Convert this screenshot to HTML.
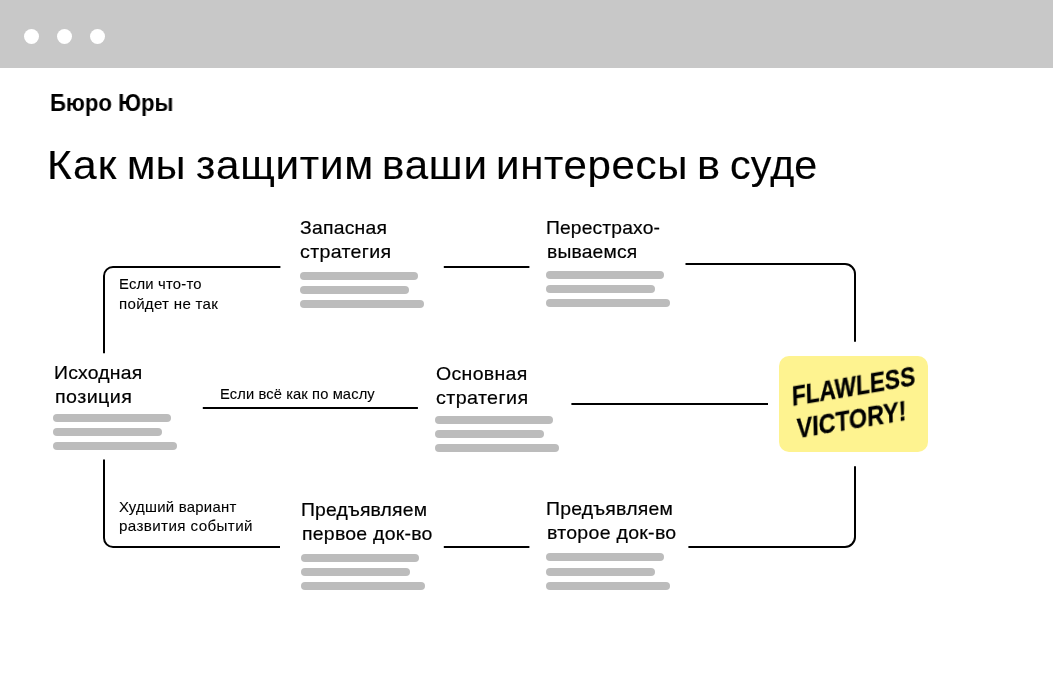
<!DOCTYPE html>
<html><head><meta charset="utf-8"><style>
html,body{margin:0;padding:0;}
body{width:1053px;height:678px;position:relative;overflow:hidden;background:#fff;font-family:"Liberation Sans",sans-serif;color:#000;}
.bar{position:absolute;height:8px;border-radius:4px;background:#bcbcbc;}
.t{position:absolute;white-space:nowrap;line-height:1;will-change:transform;}
</style></head><body>
<div style="position:absolute;left:0;top:0;width:1053px;height:68px;background:#c8c8c8"></div>
<div style="position:absolute;left:24px;top:29px;width:15px;height:15px;border-radius:50%;background:#fff"></div>
<div style="position:absolute;left:57px;top:29px;width:15px;height:15px;border-radius:50%;background:#fff"></div>
<div style="position:absolute;left:90px;top:29px;width:15px;height:15px;border-radius:50%;background:#fff"></div>

<div class="t" style="left:49.97px;top:91.53px;font-size:23px;letter-spacing:0.000px;transform-origin:0 0;transform:scaleX(0.9632);font-weight:bold;-webkit-text-stroke:0px #000">Бюро Юры</div>
<div class="t" style="left:47.19px;top:145.19px;font-size:41px;letter-spacing:1.086px;transform-origin:0 0;transform:scaleX(1.0363);-webkit-text-stroke:0.15px #000">Как</div>
<div class="t" style="left:127.08px;top:145.19px;font-size:41px;letter-spacing:0.298px;transform-origin:0 0;transform:scaleX(1.0058);-webkit-text-stroke:0.15px #000">мы</div>
<div class="t" style="left:195.57px;top:145.19px;font-size:41px;letter-spacing:0.722px;transform-origin:0 0;transform:scaleX(1.0271);-webkit-text-stroke:0.15px #000">защитим</div>
<div class="t" style="left:382.32px;top:145.19px;font-size:41px;letter-spacing:0.780px;transform-origin:0 0;transform:scaleX(1.0255);-webkit-text-stroke:0.15px #000">ваши</div>
<div class="t" style="left:496.32px;top:145.19px;font-size:41px;letter-spacing:0.627px;transform-origin:0 0;transform:scaleX(1.0256);-webkit-text-stroke:0.15px #000">интересы</div>
<div class="t" style="left:697.42px;top:145.19px;font-size:41px;letter-spacing:0.000px;transform-origin:0 0;transform:scaleX(1.0588);-webkit-text-stroke:0.15px #000">в</div>
<div class="t" style="left:729.89px;top:145.19px;font-size:41px;letter-spacing:0.149px;transform-origin:0 0;transform:scaleX(1.0054);-webkit-text-stroke:0.15px #000">суде</div>
<div class="t" style="left:300.18px;top:217.82px;font-size:19px;letter-spacing:0.224px;transform-origin:0 0;transform:scaleX(1.0195);-webkit-text-stroke:0.2px #000">Запасная</div>
<div class="t" style="left:300.17px;top:241.92px;font-size:19px;letter-spacing:0.321px;transform-origin:0 0;transform:scaleX(1.0315);-webkit-text-stroke:0.2px #000">стратегия</div>
<div class="t" style="left:545.97px;top:217.82px;font-size:19px;letter-spacing:0.148px;transform-origin:0 0;transform:scaleX(1.0139);-webkit-text-stroke:0.2px #000">Перестрахо-</div>
<div class="t" style="left:546.98px;top:242.12px;font-size:19px;letter-spacing:0.183px;transform-origin:0 0;transform:scaleX(1.0153);-webkit-text-stroke:0.2px #000">вываемся</div>
<div class="t" style="left:53.56px;top:362.92px;font-size:19px;letter-spacing:0.217px;transform-origin:0 0;transform:scaleX(1.0189);-webkit-text-stroke:0.2px #000">Исходная</div>
<div class="t" style="left:54.56px;top:386.92px;font-size:19px;letter-spacing:0.402px;transform-origin:0 0;transform:scaleX(1.0357);-webkit-text-stroke:0.2px #000">позиция</div>
<div class="t" style="left:435.97px;top:363.92px;font-size:19px;letter-spacing:0.313px;transform-origin:0 0;transform:scaleX(1.0265);-webkit-text-stroke:0.2px #000">Основная</div>
<div class="t" style="left:435.96px;top:387.92px;font-size:19px;letter-spacing:0.374px;transform-origin:0 0;transform:scaleX(1.0369);-webkit-text-stroke:0.2px #000">стратегия</div>
<div class="t" style="left:301.47px;top:499.72px;font-size:19px;letter-spacing:0.202px;transform-origin:0 0;transform:scaleX(1.0172);-webkit-text-stroke:0.2px #000">Предъявляем</div>
<div class="t" style="left:302.48px;top:523.82px;font-size:19px;letter-spacing:0.240px;transform-origin:0 0;transform:scaleX(1.0240);-webkit-text-stroke:0.2px #000">первое док-во</div>
<div class="t" style="left:545.56px;top:498.82px;font-size:19px;letter-spacing:0.245px;transform-origin:0 0;transform:scaleX(1.0210);-webkit-text-stroke:0.2px #000">Предъявляем</div>
<div class="t" style="left:546.57px;top:522.72px;font-size:19px;letter-spacing:0.272px;transform-origin:0 0;transform:scaleX(1.0277);-webkit-text-stroke:0.2px #000">второе док-во</div>
<div class="t" style="left:118.98px;top:277.33px;font-size:14.5px;letter-spacing:0.176px;transform-origin:0 0;transform:scaleX(1.0234);-webkit-text-stroke:0.1px #000">Если что-то</div>
<div class="t" style="left:118.96px;top:296.93px;font-size:14.5px;letter-spacing:0.285px;transform-origin:0 0;transform:scaleX(1.0394);-webkit-text-stroke:0.1px #000">пойдет не так</div>
<div class="t" style="left:219.79px;top:387.33px;font-size:14.5px;letter-spacing:0.108px;transform-origin:0 0;transform:scaleX(1.0148);-webkit-text-stroke:0.1px #000">Если всё как по маслу</div>
<div class="t" style="left:118.67px;top:499.83px;font-size:14.5px;letter-spacing:0.236px;transform-origin:0 0;transform:scaleX(1.0286);-webkit-text-stroke:0.1px #000">Худший вариант</div>
<div class="t" style="left:118.65px;top:518.63px;font-size:14.5px;letter-spacing:0.360px;transform-origin:0 0;transform:scaleX(1.0471);-webkit-text-stroke:0.1px #000">развития событий</div>
<div class="bar" style="left:300.3px;top:271.6px;width:118px"></div>
<div class="bar" style="left:300.3px;top:286.0px;width:109px"></div>
<div class="bar" style="left:300.3px;top:300.2px;width:124px"></div>
<div class="bar" style="left:546.2px;top:270.7px;width:118px"></div>
<div class="bar" style="left:546.2px;top:285.1px;width:109px"></div>
<div class="bar" style="left:546.2px;top:299.2px;width:124px"></div>
<div class="bar" style="left:53.2px;top:413.7px;width:118px"></div>
<div class="bar" style="left:53.2px;top:427.8px;width:109px"></div>
<div class="bar" style="left:53.2px;top:442.4px;width:124px"></div>
<div class="bar" style="left:435.0px;top:415.7px;width:118px"></div>
<div class="bar" style="left:435.0px;top:430.0px;width:109px"></div>
<div class="bar" style="left:435.0px;top:444.2px;width:124px"></div>
<div class="bar" style="left:301.0px;top:553.6px;width:118px"></div>
<div class="bar" style="left:301.0px;top:567.8px;width:109px"></div>
<div class="bar" style="left:301.0px;top:582.0px;width:124px"></div>
<div class="bar" style="left:546.2px;top:553.4px;width:118px"></div>
<div class="bar" style="left:546.2px;top:567.8px;width:109px"></div>
<div class="bar" style="left:546.2px;top:582.0px;width:124px"></div>
<svg style="position:absolute;left:0;top:0" width="1053" height="678" viewBox="0 0 1053 678" fill="none" stroke="#000" stroke-width="2">
<path d="M280.4 267 H113 A9 9 0 0 0 104 276 V353.2"/>
<path d="M443.8 267 H529.4"/>
<path d="M685.5 264 H845 A10 10 0 0 1 855 274 V341.7"/>
<path d="M202.8 408 H417.9"/>
<path d="M571.4 404 H768"/>
<path d="M104 459.6 V538 A9 9 0 0 0 113 547 H280"/>
<path d="M443.8 547 H529.4"/>
<path d="M688.4 547 H845 A10 10 0 0 0 855 537 V466.2"/>
</svg>
<div style="position:absolute;left:779px;top:356px;width:149px;height:96px;border-radius:10px;background:#fef390"></div>
<div style="position:absolute;left:753px;top:371px;width:200px;height:64px;transform-origin:50% 50%;transform:rotate(-9.5deg) skewX(-8deg);font-size:27px;line-height:32px;font-weight:bold;color:#000;-webkit-text-stroke:0.3px #000;will-change:transform;white-space:nowrap;text-align:center">
<div style="transform:translateX(1px) scaleX(0.85)">FLAWLESS</div><div style="transform:translateX(-2px) scaleX(0.87)">VICTORY!</div></div>
</body></html>
